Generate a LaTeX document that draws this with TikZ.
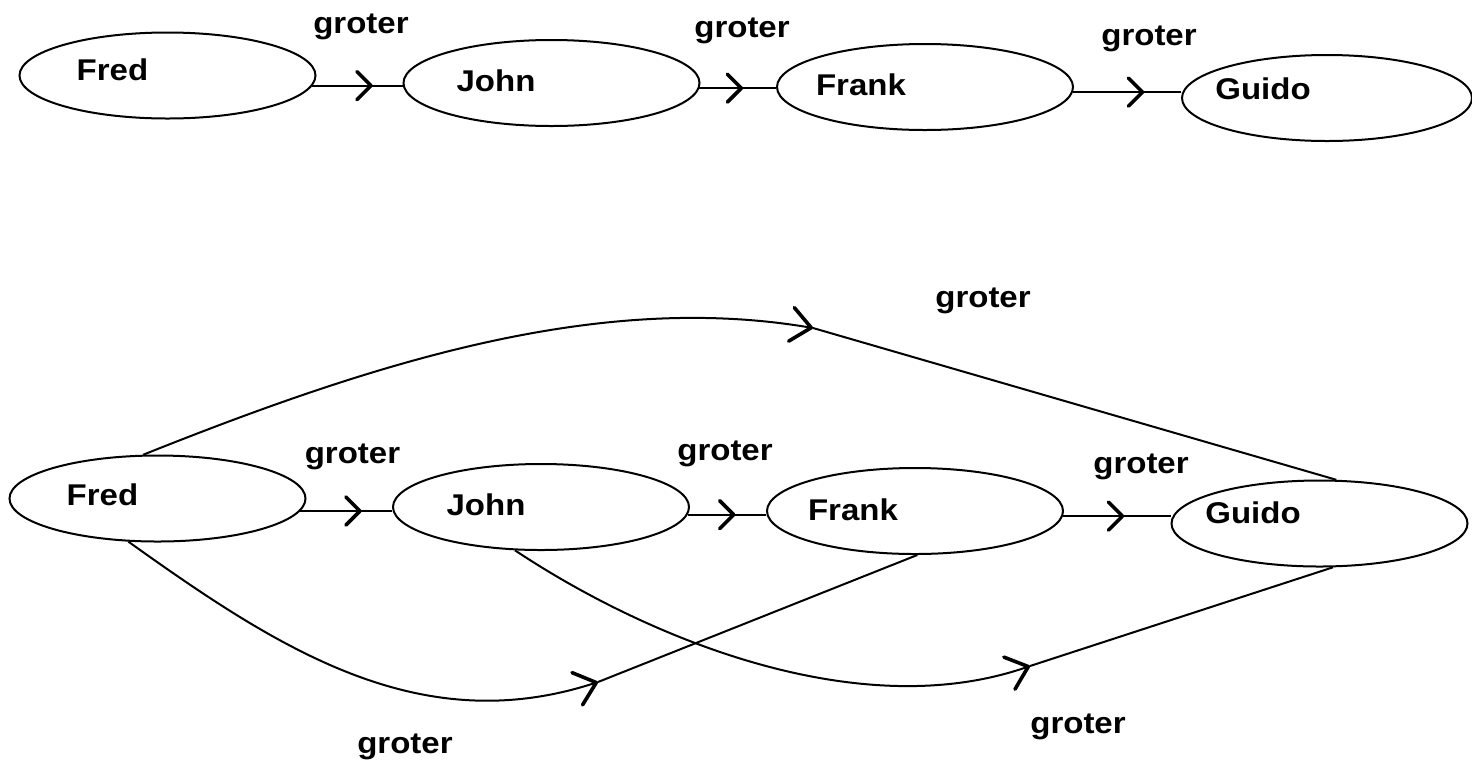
\documentclass[tikz,border=0pt]{standalone}
\usepackage{fontspec}
\newfontfamily\lblfont{Liberation Sans}[FakeStretch=1.1]
\usetikzlibrary{shapes.geometric,arrows.meta,decorations.markings}
\begin{document}
\begin{tikzpicture}[x=0.5pt,y=-0.5pt,
  ent/.style={draw, ellipse, minimum width=148pt, minimum height=43pt, inner sep=0pt, line width=1pt},
  txt/.style={anchor=base, inner sep=0pt, font=\lblfont\bfseries\fontsize{15}{18}\selectfont},
  link/.style={line width=1pt},
  barb/.tip={Straight Barb[length=7pt,width=14pt,line width=1.8pt,round]},
  bigbarb/.tip={Straight Barb[length=10pt,width=17pt,line width=1.8pt,round]},
  tipat/.style={postaction={decorate}, decoration={markings, mark=at position #1 with {\arrow{barb}}}},
]
\fill[white] (0,0) rectangle (1472,762);
\useasboundingbox (0,0) rectangle (1472,762);

% chain: each person is bigger than the next
\node[ent] (f1) at (167.5,75.5) {};
\node[ent] (j1) at (551.5,83) {};
\node[ent] (k1) at (925,87) {};
\node[ent, minimum width=145pt] (g1) at (1327,98) {};

\node[txt] (nf1) at (112.5,80) {Fred};
\node[txt] (nj1) at (496,91) {John};
\node[txt] (nk1) at (861,95) {Frank};
\node[txt] (ng1) at (1263,99) {Guido};

\draw[link, tipat=0.67] (f1.-4) -- (f1.-4 -| j1.west);
\draw[link, tipat=0.57] (j1.-2) -- (j1.-2 -| k1.west);
\draw[link, tipat=0.66] (k1.-2) -- (k1.-2 -| g1.west);

\node[txt] (l1) at (361,33) {groter};
\node[txt] (l2) at (742,37) {groter};
\node[txt] (l3) at (1149,45) {groter};

% the same chain with its transitive relations added
\node[ent] (f2) at (157.5,498.5) {};
\node[ent] (j2) at (541,507) {};
\node[ent] (k2) at (915,511) {};
\node[ent] (g2) at (1319.5,523.5) {};

\node[txt] (nf2) at (102.5,505) {Fred};
\node[txt] (nj2) at (486,515) {John};
\node[txt] (nk2) at (853,520) {Frank};
\node[txt] (ng2) at (1253,523) {Guido};

\draw[link, tipat=0.67] (f2.-5) -- (f2.-5 -| j2.west);
\draw[link, tipat=0.61] (j2.-3) -- (j2.-3 -| k2.west);
\draw[link, tipat=0.57] (k2.-2) -- (k2.-2 -| g2.west);

\node[txt] (l4) at (352.5,463) {groter};
\node[txt] (l5) at (725,460) {groter};
\node[txt] (l6) at (1141,473) {groter};

\coordinate (ta) at (813,328);
\coordinate (tb) at (598,682);
\coordinate (tc) at (1030,666);

\draw[link, -{bigbarb}] (f2.108) .. controls (380,360) and (600,292) .. (ta);
\draw[link] (ta) -- (g2.69);
\draw[link, -{bigbarb}] (f2.236) .. controls (280,650) and (420,740) .. (tb);
\draw[link] (tb) -- (k2.273);
\draw[link, -{bigbarb}] (j2.239) .. controls (650,640) and (860,725) .. (tc);
\draw[link] (tc) -- (g2.287);

\node[txt] (l7) at (983,307) {groter};
\node[txt] (l8) at (405,753) {groter};
\node[txt] (l9) at (1078,733) {groter};
\end{tikzpicture}
\end{document}
